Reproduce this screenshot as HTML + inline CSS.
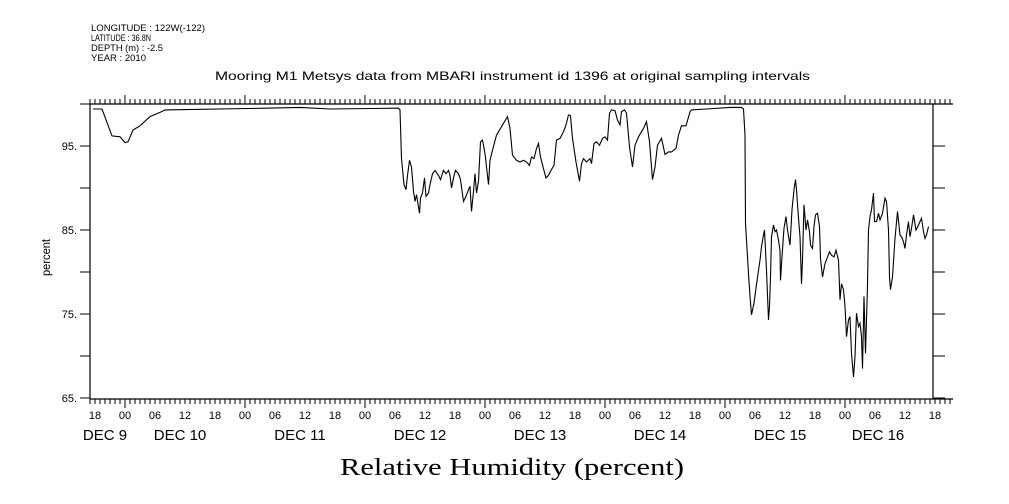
<!DOCTYPE html>
<html><head><meta charset="utf-8"><style>
html,body{margin:0;padding:0;background:#fff;}
svg{display:block;}
text{font-family:"Liberation Sans",sans-serif;fill:#000;}
</style></head><body>
<svg id="chart" width="1009" height="504" viewBox="0 0 1009 504" xmlns="http://www.w3.org/2000/svg">
<g font-size="9">
<text x="91" y="31" textLength="114" lengthAdjust="spacingAndGlyphs">LONGITUDE : 122W(-122)</text>
<text x="91" y="41" textLength="60" lengthAdjust="spacingAndGlyphs">LATITUDE : 36.8N</text>
<text x="91" y="51" textLength="72" lengthAdjust="spacingAndGlyphs">DEPTH (m) : -2.5</text>
<text x="91" y="61" textLength="55" lengthAdjust="spacingAndGlyphs">YEAR : 2010</text>
</g>
<text x="215" y="80" font-size="12" textLength="595" lengthAdjust="spacingAndGlyphs">Mooring M1 Metsys data from MBARI instrument id 1396 at original sampling intervals</text>
<text x="340" y="475" font-size="24" style="font-family:'Liberation Serif',serif" textLength="344" lengthAdjust="spacingAndGlyphs">Relative Humidity (percent)</text>
<text transform="translate(50,276) rotate(-90)" font-size="12" textLength="37" lengthAdjust="spacingAndGlyphs">percent</text>
<g id="axes"></g>
<g id="series"></g>
</svg>
<script>
const hours=[17.6,19.4,21.4,23,24,24.6,25.6,27,29,31,32,52,59,65,78.2,78.7,79,79.3,79.8,80.2,80.5,80.9,81.3,81.7,82,82.3,82.9,83.1,83.5,83.9,84.2,84.7,85,85.5,86,86.7,87.1,87.7,88.2,88.7,89,89.3,89.7,90.1,90.7,91.1,91.7,92.2,92.7,93,93.3,93.7,94,94.3,94.7,95.1,95.5,96,96.7,97,97.5,98.3,99.3,100.5,101,101.5,102.3,103,103.7,104.3,104.9,105.3,105.8,106.3,106.7,107.1,107.7,108.2,108.7,109.2,109.8,110.3,111,111.7,112.2,112.7,113.1,113.5,114.2,114.9,115.3,115.7,116.3,117,117.3,117.8,118.3,118.9,119.5,120,120.5,120.9,121.3,122,122.5,123,123.3,123.9,124.3,124.9,125.5,126,126.7,127.7,128.3,128.9,129.5,130,130.5,131.3,132,132.7,133.3,134.2,134.7,135.3,136.2,137,137.3,140.3,145,147.3,147.7,148,148.1,148.7,149,149.3,149.8,150.2,150.7,151,151.3,151.7,151.9,152.3,152.7,152.9,153.1,153.3,153.7,154,154.3,154.7,155,155.1,155.4,155.8,156.2,156.5,157,157.4,157.8,158.1,158.3,158.7,159,159.3,159.5,159.8,160.2,160.5,160.9,161.1,161.5,161.8,162.1,162.5,162.9,163.1,163.5,164,164.5,164.9,165.3,165.8,166.2,166.7,167,167.3,167.7,168,168.3,168.7,169,169.3,169.7,170,170.3,170.7,171,171.3,171.5,171.8,172.1,172.5,172.7,173,173.3,173.7,173.9,174.3,174.7,175,175.5,176,176.3,176.7,176.9,177.1,177.5,178,178.5,179,179.3,179.7,180,180.3,180.7,181,181.3,181.7,182.2,182.7,183,183.3,183.7,184,184.3,184.7];
const humidity=[99.4,99.4,96.2,96.1,95.4,95.5,96.9,97.4,98.5,99.0,99.3,99.5,99.6,99.4,99.5,99.5,99.3,93.5,90.4,89.8,91.5,93.3,92.5,89.6,88.4,89.2,87.0,88.8,89.4,91.2,89.0,89.4,90.4,91.7,92.1,91.5,91.0,92.1,91.7,92.1,91.5,90.0,91.2,92.1,91.7,91.0,88.4,89.0,89.8,90.2,87.2,89.6,91.7,89.4,90.8,95.5,95.7,94.1,90.4,93.3,94.5,96.3,97.3,98.5,97.1,93.9,93.3,93.1,93.3,93.1,92.7,93.7,93.5,94.7,95.3,93.7,92.3,91.2,91.5,92.1,92.7,95.7,95.9,96.7,97.5,98.7,98.6,95.9,93.1,90.8,92.9,93.5,93.1,93.5,92.9,95.3,95.5,95.1,95.9,96.1,95.7,98.9,99.3,99.2,98.1,97.5,99.1,99.3,98.9,94.9,92.5,95.1,96.1,97.1,97.9,95.5,91.0,92.5,95.1,95.9,94.0,94.3,94.3,94.7,96.3,97.4,97.4,99.1,99.3,99.4,99.6,99.6,99.4,96.3,85.8,79.8,77.1,74.9,76.3,78.1,80.2,81.4,83.0,84.4,85.0,80.2,74.3,75.9,79.4,84.2,85.6,84.8,85.0,83.8,82.6,79.0,81.8,85.2,86.6,85.0,83.2,87.4,89.8,91.0,89.8,86.4,84.2,78.6,81.4,88.0,85.0,86.2,84.8,83.2,82.8,85.4,86.8,87.0,85.4,81.6,79.4,81.0,81.8,82.4,82.0,81.8,82.6,81.4,76.7,78.6,77.9,75.9,72.3,74.3,74.7,70.3,67.5,69.9,75.1,73.5,73.9,72.3,68.5,77.1,70.3,78.4,85.0,86.6,87.4,89.4,86.0,86.0,87.0,86.2,87.0,88.8,88.4,85.0,79.4,77.9,79.4,84.0,87.2,84.4,84.2,83.6,82.8,84.4,86.0,84.2,85.2,86.8,85.0,85.6,86.0,86.4,84.8,84.0,84.4,85.4];
const yTicks=[65,70,75,80,85,90,95,100];
const yLabels=["65.","","75.","","85.","","95.",""];
const hourLabels=["18","00","06","12"];
const dayLabels=["DEC  9","DEC 10","DEC 11","DEC 12","DEC 13","DEC 14","DEC 15","DEC 16"];
const dayLabelX=[105,180,300,420,540,660,780,878];
const X0=90,X1=933,Y0=399,Y1=104,H0=17,H1=185.6;
const ns="http://www.w3.org/2000/svg";
function xs(h){return 5+5*h;}
function ys(v){return 104+(100-v)*8.4;}
function mk(tag,attrs,parent){const e=document.createElementNS(ns,tag);for(const k in attrs)e.setAttribute(k,attrs[k]);parent.appendChild(e);return e;}
const ax=document.getElementById('axes');
const frame=mk('path',{d:`M${X0} ${Y1}H${X1}V${Y0}H${X0}Z M${X0} ${Y1}H953 M${X0} ${Y0}H953`,fill:'none',stroke:'#000','stroke-width':1.2},ax);


let tp='';
for(let h=Math.ceil(H0);h<=H1+4;h++){const x=xs(h);if(x>953)break;const major=h%24===0;tp+=`M${x} ${Y1}V${Y1-(major?9:5)}M${x} ${Y0}V${Y0+(major?9:5)}`;}
yTicks.forEach(v=>{const y=ys(v);tp+=`M${X0-10} ${y}H${X0}M${X1} ${y}H${X1+12}`;});
const ticks=mk('path',{d:tp,stroke:'#000','stroke-width':1},ax);


yTicks.forEach((v,i)=>{if(!yLabels[i])return;const t=mk('text',{x:77,y:ys(v)+4,'font-size':11,'text-anchor':'end'},ax);t.textContent=yLabels[i];

});
for(let h=18;h<=186;h+=6){const t=mk('text',{x:xs(h),y:419,'font-size':11,'text-anchor':'middle'},ax);t.textContent=hourLabels[(h/6)%4===3?0:(h/6)%4+1-1===0?1:0]||'';t.textContent=hourLabels[[1,2,3,0][(h/6)%4]];

}
dayLabels.forEach((d,i)=>{const t=mk('text',{x:dayLabelX[i],y:440,'font-size':15,'text-anchor':'middle','xml:space':'preserve'},ax);t.textContent=d;

});
const pts=hours.map((h,i)=>xs(h).toFixed(1)+','+ys(humidity[i]).toFixed(1)).join(' ');
const line=mk('polyline',{points:pts,fill:'none',stroke:'#000','stroke-width':1.1},document.getElementById('series'));


</script>
</body></html>
